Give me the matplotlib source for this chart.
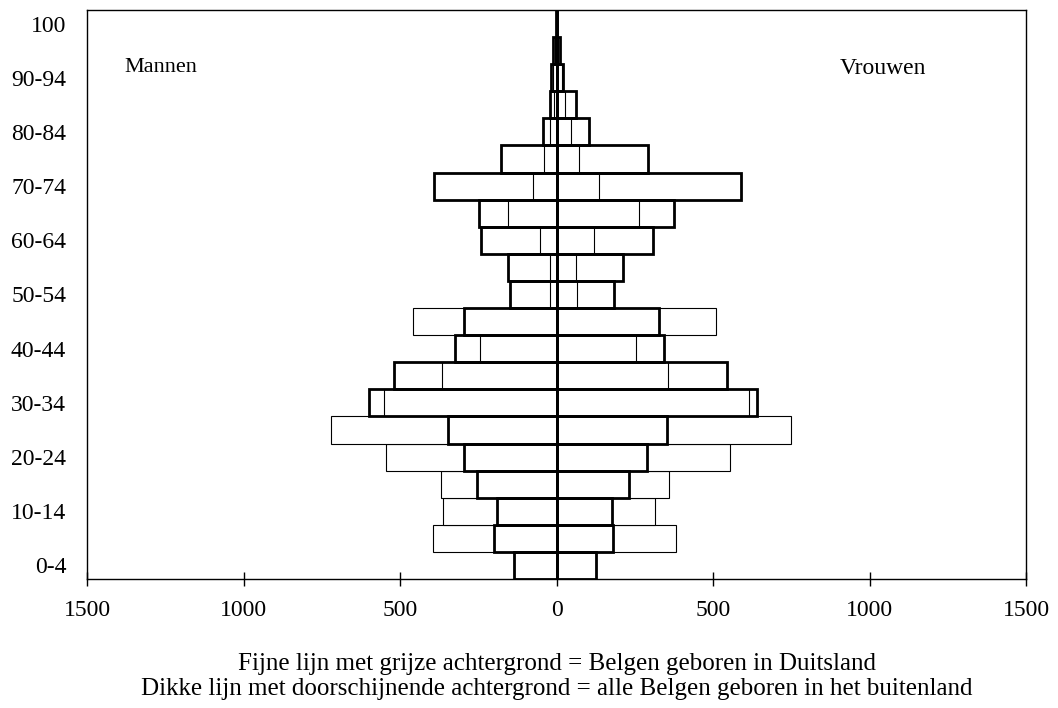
import matplotlib
matplotlib.use("Agg")
import matplotlib.pyplot as plt
import numpy as np

plt.rcParams['font.family'] = ['Liberation Serif', 'DejaVu Serif']

age_groups = ['0-4', '5-9', '10-14', '15-19', '20-24', '25-29', '30-34', '35-39',
              '40-44', '45-49', '50-54', '55-59', '60-64', '65-69', '70-74', '75-79',
              '80-84', '85-89', '90-94', '95-99', '100']
# Dikke lijn: alle Belgen geboren in het buitenland
abroad_men = [136, 200, 191, 255, 297, 346, 598, 520, 325, 297, 149, 154, 240, 249, 391, 176, 42, 20, 18, 10, 2]
abroad_women = [126, 180, 177, 232, 289, 352, 639, 546, 344, 327, 183, 212, 308, 374, 589, 292, 105, 62, 22, 10, 2]
# Fijne lijn: Belgen geboren in Duitsland
germany_men = [136, 396, 362, 369, 544, 720, 551, 365, 244, 460, 21, 21, 54, 154, 74, 40, 22, 8, 10, 5, 1]
germany_women = [126, 381, 315, 360, 554, 748, 616, 356, 254, 509, 64, 63, 119, 265, 137, 73, 45, 28, 18, 6, 1]
xticks = [-1500, -1000, -500, 0, 500, 1000, 1500]
labelled = ['0-4', '10-14', '20-24', '30-34', '40-44', '50-54', '60-64', '70-74', '80-84', '90-94', '100']

fig = plt.figure(figsize=(10.58, 7.08), dpi=100)
ax = fig.add_axes([87/1058, 1 - 579/708, 939/1058, 569/708])

y = np.arange(len(age_groups))
ax.barh(y, -np.array(germany_men), height=1, color='white', edgecolor='black', linewidth=0.8, zorder=2)
ax.barh(y, germany_women, height=1, color='white', edgecolor='black', linewidth=0.8, zorder=2)
ax.barh(y, -np.array(abroad_men), height=1, fill=False, edgecolor='black', linewidth=2.0, zorder=3)
ax.barh(y, abroad_women, height=1, fill=False, edgecolor='black', linewidth=2.0, zorder=3)
ax.axvline(0, color='black', linewidth=1.2, zorder=4)

ax.set_xlim(-1500, 1500)
ax.set_ylim(-0.5, len(age_groups) - 0.5)
ax.set_xticks(xticks)
ax.set_xticklabels([str(abs(t)) for t in xticks], fontsize=17)
ytick_pos = [age_groups.index(l) for l in labelled]
ax.set_yticks(ytick_pos)
ax.set_yticklabels(labelled, fontsize=17)
ax.tick_params(axis='y', length=0, pad=15)
ax.tick_params(axis='x', direction='inout', length=10, width=1, pad=10)

for s in ax.spines.values():
    s.set_linewidth(1.0)

ax.text(37/939, 1 - 58/569, 'Mannen', transform=ax.transAxes, fontsize=16, ha='left', va='center')
ax.text((926 - 87)/939, 1 - 58/569, 'Vrouwen', transform=ax.transAxes, fontsize=17, ha='right', va='center')

fig.text(557/1058, 1 - 664/708, 'Fijne lijn met grijze achtergrond = Belgen geboren in Duitsland',
         fontsize=18, ha='center', va='center')
fig.text(557/1058, 1 - 689/708, 'Dikke lijn met doorschijnende achtergrond = alle Belgen geboren in het buitenland',
         fontsize=18, ha='center', va='center')

fig.savefig('out.png', dpi=100)
